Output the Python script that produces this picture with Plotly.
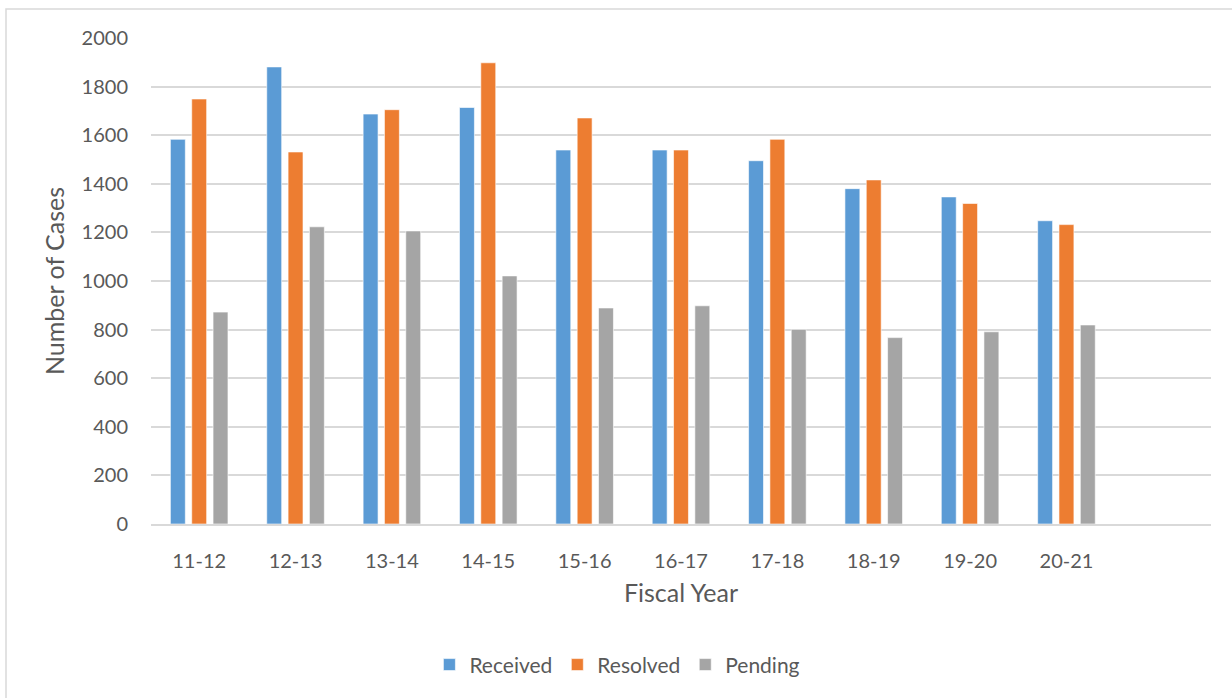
import plotly.graph_objects as go

years = ["11-12", "12-13", "13-14", "14-15", "15-16", "16-17", "17-18", "18-19", "19-20", "20-21"]
received = [1583, 1881, 1687, 1714, 1539, 1539, 1495, 1380, 1346, 1248]
resolved = [1749, 1531, 1705, 1898, 1671, 1539, 1583, 1416, 1319, 1232]
pending = [872, 1223, 1206, 1021, 889, 898, 801, 767, 791, 819]

series_names = ["Received", "Resolved", "Pending"]
series_colors = ["#5B9BD5", "#ED7D31", "#A5A5A5"]
y_ticks = [0, 200, 400, 600, 800, 1000, 1200, 1400, 1600, 1800, 2000]

FONT = "Lato, 'Open Sans', sans-serif"
TXT = "#595959"

fig = go.Figure()
for name, vals, col in zip(series_names, [received, resolved, pending], series_colors):
    fig.add_trace(go.Bar(
        x=years, y=vals, name=name,
        marker=dict(color=col, line=dict(color="rgba(255,255,255,0.6)", width=1)),
    ))

L, R, T, B = 151, 21, 38, 174
W, H = 1232, 698
pw, ph = W - L - R, H - T - B

fig.update_layout(
    width=W, height=H,
    margin=dict(l=L, r=R, t=T, b=B, pad=0),
    paper_bgcolor="white", plot_bgcolor="white",
    barmode="group", bargap=0.336, bargroupgap=0.30,
    font=dict(family=FONT, color=TXT, size=20),
    showlegend=True,
    legend=dict(orientation="h", x=0.44, xanchor="center", y=-0.29, yanchor="middle",
                font=dict(size=21, color=TXT), traceorder="normal",
                itemwidth=30, bgcolor="rgba(0,0,0,0)"),
    xaxis=dict(
        type="category", range=[-0.5, 10.5],
        showgrid=False, showline=True, linecolor="#D9D9D9", linewidth=1.5,
        ticks="", tickfont=dict(size=20, color=TXT), ticklabelstandoff=18,
        title=dict(text="Fiscal Year", font=dict(size=25, color=TXT), standoff=14),
        fixedrange=True,
    ),
    yaxis=dict(
        range=[0, 2000], tickvals=y_ticks,
        showgrid=True, gridcolor="#D9D9D9", gridwidth=1.5,
        zeroline=False, showline=False, ticks="",
        tickfont=dict(size=20, color=TXT), ticklabelstandoff=22,
        title=dict(text="Number of Cases", font=dict(size=25, color=TXT), standoff=9),
        fixedrange=True,
    ),
    shapes=[dict(
        type="rect", xref="paper", yref="paper",
        x0=(6 - L) / pw, x1=1.2, y0=-0.6, y1=(H - B - 9) / ph,
        line=dict(color="#D9D9D9", width=1.5), fillcolor="rgba(0,0,0,0)", layer="below",
    )],
)

fig.write_html("out.html", config={"displayModeBar": False},
               post_script="document.body.style.margin='0px';")
